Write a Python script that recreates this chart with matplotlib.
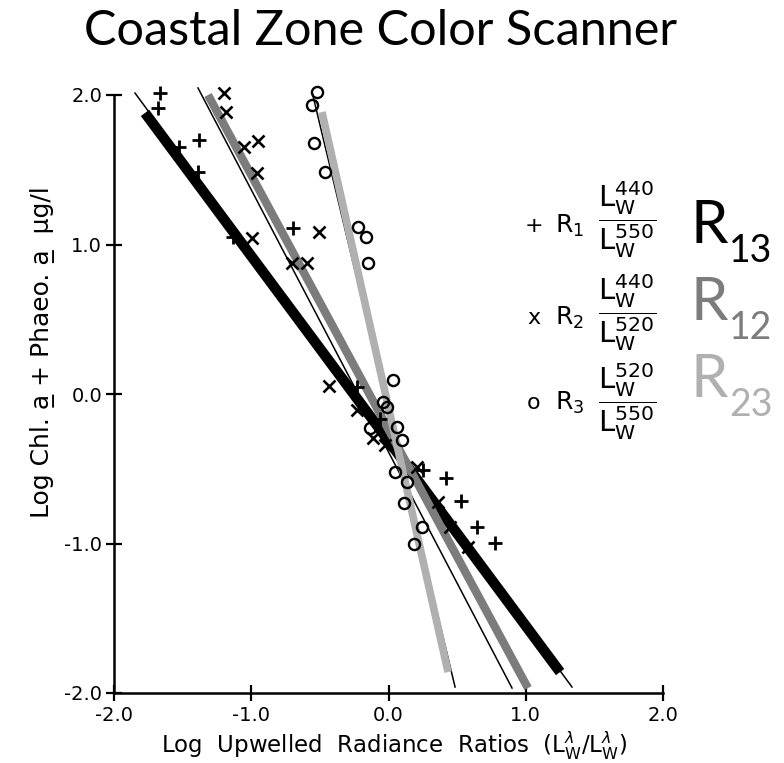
import numpy as np
import matplotlib
matplotlib.use("Agg")
import matplotlib.pyplot as plt

plt.rcParams['font.family'] = ['DejaVu Sans']
plt.rcParams['mathtext.fontset'] = 'dejavusans'

# R1 (+) points
r1_x = [-1.665, -1.679, -1.526, -1.381, -1.388, -1.133, -0.696, -0.230, -0.060,
        0.251, 0.419, 0.528, 0.645, 0.776]
r1_y = [2.013, 1.913, 1.652, 1.699, 1.485, 1.050, 1.110, 0.047, -0.170,
        -0.508, -0.562, -0.716, -0.890, -0.997]

# R2 (x) points
r2_x = [-1.199, -1.184, -1.053, -0.951, -0.958, -0.995, -0.506, -0.594, -0.703,
        -0.434, -0.230, -0.113, -0.026, 0.208, 0.361, 0.448, 0.579]
r2_y = [2.013, 1.886, 1.652, 1.692, 1.478, 1.043, 1.084, 0.876, 0.876,
        0.054, -0.107, -0.294, -0.341, -0.488, -0.722, -0.890, -1.023]

# R3 (o) points
r3_x = [-0.521, -0.557, -0.543, -0.463, -0.222, -0.164, -0.149, 0.033, -0.040,
        -0.135, -0.011, 0.062, 0.098, 0.047, 0.135, 0.113, 0.244, 0.186]
r3_y = [2.020, 1.933, 1.679, 1.485, 1.117, 1.050, 0.876, 0.094, -0.054,
        -0.227, -0.087, -0.221, -0.308, -0.522, -0.589, -0.729, -0.890, -1.003]

# original (thin) regression lines, end points
thin_x = [[-1.847, 1.337], [-1.388, 0.900], [-0.557, 0.485]]
thin_y = [[2.013, -1.960], [2.047, -1.967], [2.020, -1.960]]

# highlighted fits R13, R12, R23
fit_names = ['13', '12', '23']
fit_colors = ['#000000', '#7c7c7c', '#b0b0b0']
fit_widths = [7.5, 6.0, 5.5]
fit_x = [[-1.774, 1.250], [-1.315, 1.016], [-0.485, 0.434]]
fit_y = [[1.880, -1.860], [2.000, -1.967], [1.886, -1.860]]

ticks = [-2.0, -1.0, 0.0, 1.0, 2.0]
tick_labels = ['-2.0', '-1.0', '0.0', '1.0', '2.0']

W, H = 784, 763
fig = plt.figure(figsize=(W / 100, H / 100), dpi=100)
ax = fig.add_axes([114 / W, 1 - 693 / H, (663 - 114) / W, (693 - 95) / H])


def fpos(x, y):
    return x / W, 1 - y / H


for xs, ys in zip(thin_x, thin_y):
    ax.plot(xs, ys, color='black', lw=1.1, clip_on=False, zorder=2)
for xs, ys, c, lw in zip(fit_x, fit_y, fit_colors, fit_widths):
    ax.plot(xs, ys, color=c, lw=lw, clip_on=False, zorder=3,
            solid_capstyle='butt')

ax.plot(r1_x, r1_y, ls='none', marker='+', ms=10, mew=2.0, color='black',
        clip_on=False, zorder=4)
ax.plot(r2_x, r2_y, ls='none', marker='x', ms=8, mew=1.9, color='black',
        clip_on=False, zorder=4)
ax.plot(r3_x, r3_y, ls='none', marker='o', ms=8, mew=1.7, mfc='none',
        color='black', clip_on=False, zorder=4)

ax.set_xlim(-2, 2)
ax.set_ylim(-2, 2)
ax.spines['top'].set_visible(False)
ax.spines['right'].set_visible(False)
for s in ('left', 'bottom'):
    ax.spines[s].set_linewidth(1.8)
ax.set_xticks(ticks)
ax.set_xticklabels(tick_labels)
ax.set_yticks(ticks)
ax.set_yticklabels(tick_labels)
ax.tick_params(direction='inout', length=11, width=1.6, labelsize=14, pad=3)
ax.tick_params(axis='x', pad=4)

ax.set_xlabel(r'Log  Upwelled  Radiance  Ratios  (L$_\mathsf{W}^\lambda$/L$_\mathsf{W}^\lambda$)',
              fontsize=16.5)
ax.xaxis.set_label_coords(0.51, -0.062)
ax.set_ylabel('Log Chl. a\u0332 + Phaeo. a\u0332  \u03bcg/l', fontsize=18)
ax.yaxis.set_label_coords(-0.108, 0.57)

fig.text(0.485, 1 - 31 / H, 'Coastal Zone Color Scanner', family='Lato',
         fontsize=35, ha='center', va='center')

# legend with ratio definitions
leg_rows = [('+', r'R$_\mathsf{1}$', r'$\dfrac{\mathsf{L}_\mathsf{W}^{440}}{\mathsf{L}_\mathsf{W}^{550}}$', 220, 226),
            ('x', r'R$_\mathsf{2}$', r'$\dfrac{\mathsf{L}_\mathsf{W}^{440}}{\mathsf{L}_\mathsf{W}^{520}}$', 313, 318),
            ('o', r'R$_\mathsf{3}$', r'$\dfrac{\mathsf{L}_\mathsf{W}^{520}}{\mathsf{L}_\mathsf{W}^{550}}$', 402, 403)]
for sym, lab, frac, ybar, ylab in leg_rows:
    fig.text(*fpos(534, ylab), sym, fontsize=16, ha='center', va='center')
    fig.text(*fpos(555, ylab), lab, fontsize=18, ha='left', va='center')
    fig.text(*fpos(627, ybar), frac, fontsize=21, ha='center', va='center')

# big colored labels
for name, c, yy in zip(fit_names, fit_colors, [243, 320, 397]):
    fig.text(*fpos(691, yy), 'R', family='Lato', fontsize=43, color=c,
             ha='left', va='baseline')
    fig.text(*fpos(729, yy + 19), name, family='Lato', fontsize=27, color=c,
             ha='left', va='baseline')

fig.savefig('out.png', dpi=100)
